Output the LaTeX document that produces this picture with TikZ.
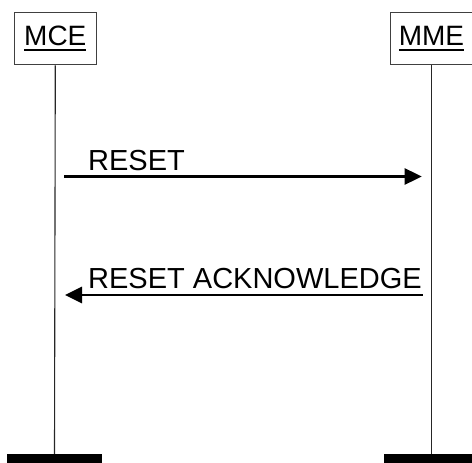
\documentclass[tikz,border=0pt]{standalone}
\usepackage{fontspec}
\setmainfont{Liberation Sans}
\usetikzlibrary{arrows.meta}
\newcommand\myul[1]{\setbox0\hbox{#1}\rlap{\rule[-5.5pt]{\wd0}{2.2pt}}\box0}
\tikzset{
  entity/.style={draw=black!75, line width=1pt, rectangle, minimum width=82pt, minimum height=52pt, inner sep=0pt, font=\fontsize{28}{32}\selectfont},
  lifeline/.style={draw=black!85, line width=1.1pt},
  endbar/.style={fill=black, draw=none, rectangle, minimum height=9pt, inner sep=0pt},
  msg/.style={line width=2.7pt, -{Triangle[length=17pt,width=16pt]}},
  msglabel/.style={anchor=base west, inner sep=0pt, font=\fontsize{29}{33}\selectfont}
}
\begin{document}
\begin{tikzpicture}[x=1pt,y=-1pt]
\useasboundingbox (0,0) rectangle (472,463);
\node[entity] (mce) at (55.3,38.8) {\myul{MCE}};
\node[entity] (mme) at (431.5,38.8) {\myul{MME}};
\node[endbar, minimum width=95pt] (barL) at (54.5,458.5) {};
\node[endbar, minimum width=96pt] (barR) at (431.5,458.5) {};
\draw[lifeline] (mce.south) -- (barL.north);
\draw[lifeline] (mme.south) -- (barR.north);
\coordinate (m1s) at (64,176.5);
\coordinate (m1e) at (421.7,176.5);
\coordinate (m2s) at (422.7,295);
\coordinate (m2e) at (65,295);
\draw[msg] (m1s) -- (m1e);
\draw[msg] (m2s) -- (m2e);
\node[msglabel] (l1) at (88,170.5) {RESET};
\node[msglabel] (l2) at (88,288.5) {RESET ACKNOWLEDGE};
\end{tikzpicture}
\end{document}
